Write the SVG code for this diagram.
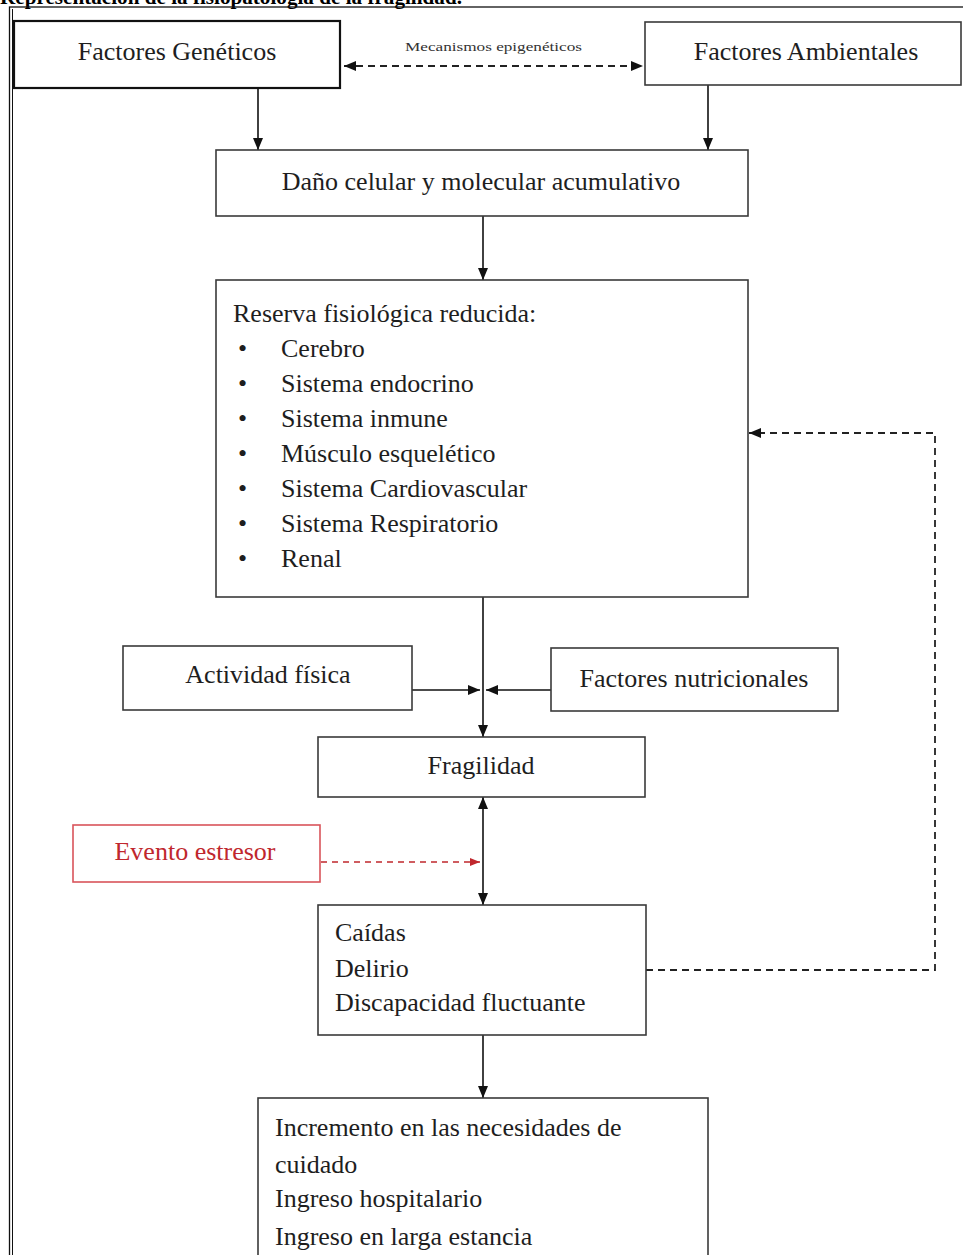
<svg xmlns="http://www.w3.org/2000/svg" width="963" height="1255" viewBox="0 0 963 1255">
<defs>
<style>
.box{fill:#fff;stroke:#3a3a3a;stroke-width:1.6}
.boxb{fill:#fff;stroke:#111;stroke-width:2.2}
.redbox{fill:#fff;stroke:#d9545b;stroke-width:1.6}
.t{font-family:"Liberation Serif","Times New Roman",serif;font-size:26px;fill:#1e1e1e}
.tr{font-family:"Liberation Serif","Times New Roman",serif;font-size:26px;fill:#c0272d}
.small{font-family:"Liberation Serif","Times New Roman",serif;font-size:12px;fill:#333}
.title{font-family:"Liberation Serif","Times New Roman",serif;font-size:21px;font-weight:bold;fill:#000}
.ln{stroke:#111;stroke-width:1.6;fill:none}
.dash{stroke:#222;stroke-width:1.8;fill:none;stroke-dasharray:7,5}
.rdash{stroke:#c0272d;stroke-width:1.6;fill:none;stroke-dasharray:6,5}
</style>
<marker id="ah" markerUnits="userSpaceOnUse" markerWidth="13" markerHeight="11" refX="12" refY="5.5" orient="auto-start-reverse">
<path d="M0,0.5 L12,5.5 L0,10.5 z" fill="#111"/>
</marker>
<marker id="ahr" markerUnits="userSpaceOnUse" markerWidth="12" markerHeight="10" refX="10" refY="4.5" orient="auto">
<path d="M0,0.5 L10,4.5 L0,8.5 z" fill="#c0272d"/>
</marker>
</defs>
<rect width="963" height="1255" fill="#fff"/>
<text class="title" x="0" y="4" textLength="462" lengthAdjust="spacingAndGlyphs">Representación de la fisiopatología de la fragilidad.</text>
<g id="frame">
<rect x="9.5" y="7" width="1000" height="1300" fill="none" stroke="#111" stroke-width="1.3"/>
<line x1="12.5" y1="9" x2="12.5" y2="1255" stroke="#111" stroke-width="1"/>
</g>
<g id="connectors">
<line class="dash" x1="344" y1="66" x2="643" y2="66" marker-start="url(#ah)" marker-end="url(#ah)"/>
<line class="ln" x1="258" y1="88" x2="258" y2="150" marker-end="url(#ah)"/>
<line class="ln" x1="708" y1="85" x2="708" y2="150" marker-end="url(#ah)"/>
<line class="ln" x1="483" y1="216" x2="483" y2="280" marker-end="url(#ah)"/>
<line class="ln" x1="483" y1="597" x2="483" y2="737" marker-end="url(#ah)"/>
<line class="ln" x1="412" y1="690" x2="480" y2="690" marker-end="url(#ah)"/>
<line class="ln" x1="551" y1="690" x2="486" y2="690" marker-end="url(#ah)"/>
<line class="ln" x1="483" y1="797" x2="483" y2="905" marker-start="url(#ah)" marker-end="url(#ah)"/>
<line class="rdash" x1="321" y1="862" x2="480" y2="862" marker-end="url(#ahr)"/>
<polyline class="dash" points="646,970 935,970 935,433 749,433" marker-end="url(#ah)"/>
<line class="ln" x1="483" y1="1035" x2="483" y2="1098" marker-end="url(#ah)"/>
<text class="small" x="405" y="51" textLength="177" lengthAdjust="spacingAndGlyphs">Mecanismos  epigenéticos</text>
</g>
<g id="genéticos">
<rect class="boxb" x="14" y="21" width="326" height="67"/>
<text class="t" x="177" y="60" text-anchor="middle">Factores Genéticos</text>
</g>
<g id="ambientales">
<rect class="box" x="645" y="22" width="316" height="63"/>
<text class="t" x="806" y="60" text-anchor="middle">Factores Ambientales</text>
</g>
<g id="daño">
<rect class="box" x="216" y="150" width="532" height="66"/>
<text class="t" x="481" y="190" text-anchor="middle">Daño celular  y molecular  acumulativo</text>
</g>
<g id="reserva">
<rect class="box" x="216" y="280" width="532" height="317"/>
<text class="t" x="233" y="322">Reserva fisiológica reducida:</text>
<g class="t">
<text x="238" y="357">•</text><text x="281" y="357">Cerebro</text>
<text x="238" y="392">•</text><text x="281" y="392">Sistema endocrino</text>
<text x="238" y="427">•</text><text x="281" y="427">Sistema inmune</text>
<text x="238" y="462">•</text><text x="281" y="462">Músculo esquelético</text>
<text x="238" y="497">•</text><text x="281" y="497">Sistema Cardiovascular</text>
<text x="238" y="532">•</text><text x="281" y="532">Sistema Respiratorio</text>
<text x="238" y="567">•</text><text x="281" y="567">Renal</text>
</g>
</g>
<g id="actividad">
<rect class="box" x="123" y="646" width="289" height="64"/>
<text class="t" x="268" y="683" text-anchor="middle">Actividad física</text>
</g>
<g id="nutricionales">
<rect class="box" x="551" y="648" width="287" height="63"/>
<text class="t" x="694" y="687" text-anchor="middle">Factores nutricionales</text>
</g>
<g id="fragilidad">
<rect class="box" x="318" y="737" width="327" height="60"/>
<text class="t" x="481" y="774" text-anchor="middle">Fragilidad</text>
</g>
<g id="evento">
<rect class="redbox" x="73" y="825" width="247" height="57"/>
<text class="tr" x="195" y="860" text-anchor="middle">Evento estresor</text>
</g>
<g id="caidas">
<rect class="box" x="318" y="905" width="328" height="130"/>
<text class="t" x="335" y="941">Caídas</text>
<text class="t" x="335" y="977">Delirio</text>
<text class="t" x="335" y="1011">Discapacidad  fluctuante</text>
</g>
<g id="resultados">
<rect class="box" x="258" y="1098" width="450" height="200"/>
<text class="t" x="275" y="1136">Incremento  en las necesidades  de</text>
<text class="t" x="275" y="1173">cuidado</text>
<text class="t" x="275" y="1207">Ingreso hospitalario</text>
<text class="t" x="275" y="1245">Ingreso en larga estancia</text>
</g>
</svg>
